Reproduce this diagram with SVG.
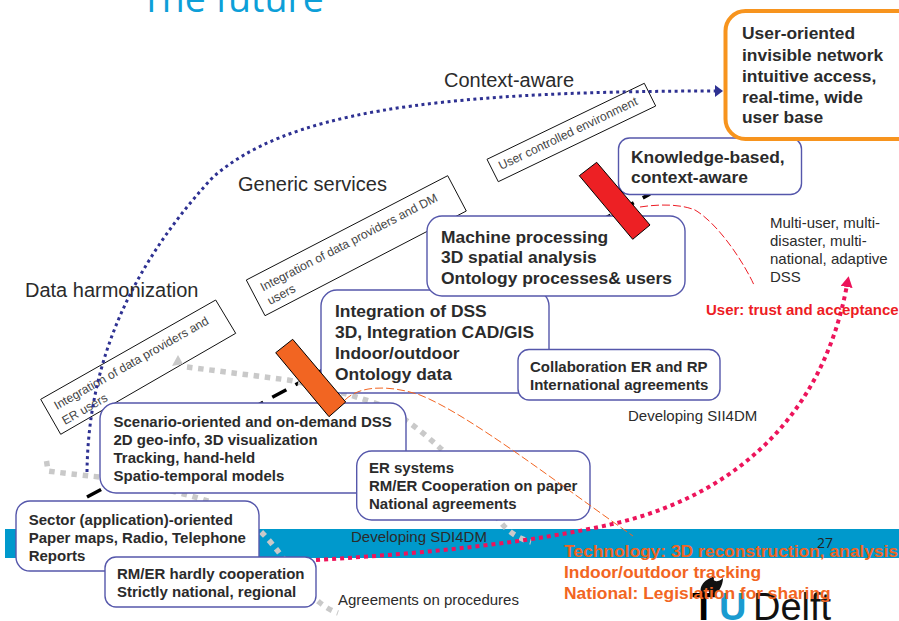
<svg xmlns="http://www.w3.org/2000/svg" width="899" height="621" viewBox="0 0 899 621">
<style>
text{font-family:"Liberation Sans",Arial,sans-serif;fill:#2b2b2b}
.b{font-weight:bold}
.s{font-size:15px}
.l{font-size:17.400px}
.box{fill:#fff;stroke:#5557ab;stroke-width:1.4}
.lab{fill:#fff;stroke:#111;stroke-width:1}
.lt{font-size:12.200px;fill:#444}
.grey{fill:none;stroke:#c9c9c9;stroke-width:5.500;stroke-dasharray:5.500 5.700}
.or{font-size:17.400px;font-weight:bold;fill:#f26522}
.h{font-size:20px}
</style>
<defs>
<marker id="ab" markerUnits="userSpaceOnUse" markerWidth="10" markerHeight="12" refX="2" refY="6" orient="auto"><path d="M0 0L8 6L0 12z" fill="#2e3192"/></marker>
<marker id="ap" markerUnits="userSpaceOnUse" markerWidth="12" markerHeight="12" refX="2" refY="6" orient="auto"><path d="M0 0L11 6L0 12z" fill="#ed145b"/></marker>
</defs>
<rect width="899" height="621" fill="#fff"/>
<text x="141" y="12" font-size="37.500" style="font-family:'Open Sans',sans-serif;fill:#0d9fd8">The future</text>
<rect id="band" x="5" y="529" width="894" height="29" fill="#0099cc"/>
<text x="817" y="548" font-size="14" style="font-family:'Open Sans',sans-serif;fill:#222">27</text>
<g id="logo">
<path d="M703 597C697 588 703 580 715 576C711 582 718 583 723 578C723 586 718 594 711 597L708 590Z" fill="#111"/>
<text x="692" y="620" font-size="38" font-weight="bold" style="fill:#000">T</text>
<text x="719" y="620" font-size="38" font-weight="bold" style="fill:#1a9bd0">U</text>
<text x="753" y="620" font-size="38" style="fill:#111">Delft</text>
</g>
<g id="label-er">
<polygon class="lab" points="215.700,300 40.700,399.300 60.700,434.300 235.700,333.300"/>
<text class="lt" transform="translate(57 410) rotate(-29.600)">Integration of data providers and</text>
<text class="lt" transform="translate(65 425) rotate(-29.600)">ER users</text>
</g>
<g id="label-dm">
<polygon class="lab" points="447.700,175.700 246.300,280 265,315.700 466.300,211"/>
<text class="lt" transform="translate(263 291.500) rotate(-27.400)">Integration of data providers and DM</text>
<text class="lt" transform="translate(270 305) rotate(-27.400)">users</text>
</g>
<g id="label-user">
<polygon class="lab" points="644.300,83.300 487,159.300 498.300,181.700 655.700,106"/>
<text class="lt" transform="translate(501 170) rotate(-25.600)">User controlled environment</text>
</g>
<g id="connectors">
<path d="M87 497L650 194" fill="none" stroke="#000" stroke-width="3.500" stroke-dasharray="16 10.300"/>
<path class="grey" d="M46.500 461L48 471C70 474 90 476 100 477C140 484 190 493 224 507C250 518 265 535 277 550C290 566 305 590 319 602C325 607 332 611 338 613"/>
<path class="grey" d="M187 367L288 380C320 386 345 393 375 403C395 410 420 430 439 447C465 470 490 510 503 525C510 533 520 539 531 542"/>
<polygon points="178,355 172,366 183,364" fill="#c9c9c9"/>
<path d="M87 472C88 380 118 280 213 177C285 115 420 91 717 91" fill="none" stroke="#2e3192" stroke-width="3" stroke-dasharray="3 3.500" marker-end="url(#ab)"/>
<path d="M316 560C430 553 530 543 617 523C720 498 820 430 847 285" fill="none" stroke="#ed145b" stroke-width="4" stroke-dasharray="4 4" marker-end="url(#ap)"/>
</g>
<g id="node-sector">
<rect class="box" x="16" y="501" width="243" height="70" rx="14"/>
<text class="b s"><tspan x="28.700" y="525">Sector (application)-oriented</tspan><tspan x="28.700" y="543">Paper maps, Radio, Telephone</tspan><tspan x="28.700" y="561">Reports</tspan></text>
</g>
<g id="node-rmer">
<rect class="box" x="105" y="557" width="211" height="50" rx="11"/>
<text class="b s"><tspan x="117" y="579">RM/ER hardly cooperation</tspan><tspan x="117" y="597">Strictly national, regional</tspan></text>
</g>
<g id="node-scenario">
<rect class="box" x="100" y="403" width="306" height="90" rx="16"/>
<text class="b s"><tspan x="113.500" y="427">Scenario-oriented and on-demand DSS</tspan><tspan x="113.500" y="445">2D geo-info, 3D visualization</tspan><tspan x="113.500" y="463">Tracking, hand-held</tspan><tspan x="113.500" y="481">Spatio-temporal models</tspan></text>
</g>
<g id="node-ersystems">
<rect class="box" x="356.700" y="451" width="233.300" height="69" rx="15"/>
<text class="b s"><tspan x="369" y="473">ER systems</tspan><tspan x="369" y="491">RM/ER Cooperation on paper</tspan><tspan x="369" y="509">National agreements</tspan></text>
</g>
<g id="node-integration">
<rect class="box" x="321" y="290" width="228" height="103" rx="16"/>
<text class="b l"><tspan x="335" y="317">Integration of DSS</tspan><tspan x="335" y="338">3D, Integration CAD/GIS</tspan><tspan x="335" y="359">Indoor/outdoor</tspan><tspan x="335" y="380">Ontology data</tspan></text>
</g>
<g id="node-collab">
<rect class="box" x="518" y="349.500" width="202" height="50.500" rx="11"/>
<text class="b s"><tspan x="530" y="372">Collaboration ER and RP</tspan><tspan x="530" y="390">International agreements</tspan></text>
</g>
<g id="node-machine">
<rect class="box" x="427" y="216" width="258" height="80" rx="15"/>
<text class="b l"><tspan x="441" y="243">Machine processing</tspan><tspan x="441" y="263">3D spatial analysis</tspan><tspan x="441" y="284">Ontology processes&amp; users</tspan></text>
</g>
<g id="node-knowledge">
<rect class="box" x="618.500" y="138" width="183" height="56.500" rx="11"/>
<text class="b l"><tspan x="631" y="163">Knowledge-based,</tspan><tspan x="631" y="183">context-aware</tspan></text>
</g>
<g id="node-user">
<rect x="725.500" y="11" width="200" height="128" rx="20" fill="#fff" stroke="#f7941e" stroke-width="4"/>
<text class="b l"><tspan x="742" y="39">User-oriented</tspan><tspan x="742" y="61">invisible network</tspan><tspan x="742" y="82">intuitive access,</tspan><tspan x="742" y="103">real-time, wide</tspan><tspan x="742" y="123">user base</tspan></text>
</g>
<polygon id="bar-red" points="596.700,162.300 579.300,175.700 632.700,239.300 650,225" fill="#ed2024" stroke="#000"/>
<polygon id="bar-orange" points="292.700,339.300 275.700,352.700 329,416.700 345.700,402" fill="#f26522" stroke="#000"/>
<g id="connectors-thin" fill="none" stroke-width="1">
<path d="M345 400C360 385 390 385 420 395C470 415 560 485 633 536" stroke="#f26522" stroke-dasharray="8 3"/>
<path d="M640 207C660 204 680 204 695 210C720 225 745 265 754 285" stroke="#ed1c24" stroke-dasharray="8 3"/>
</g>
<g id="labels">
<text class="h" x="444" y="87">Context-aware</text>
<text class="h" x="238" y="191">Generic services</text>
<text class="h" x="25" y="297">Data harmonization</text>
<text class="s"><tspan x="770" y="228">Multi-user, multi-</tspan><tspan x="770" y="246">disaster, multi-</tspan><tspan x="770" y="264">national, adaptive</tspan><tspan x="770" y="282">DSS</tspan></text>
<text class="b s" x="706" y="315" style="fill:#ed1c24">User: trust and acceptance</text>
<text class="s" x="628" y="421">Developing SII4DM</text>
<text class="s" x="351" y="542">Developing SDI4DM</text>
<text class="s" x="338" y="605">Agreements on procedures</text>
<text class="or"><tspan x="564" y="557">Technology: 3D reconstruction, analysis</tspan><tspan x="564" y="578">Indoor/outdoor tracking</tspan><tspan x="564" y="599">National: Legislation for sharing</tspan></text>
</g>
</svg>
